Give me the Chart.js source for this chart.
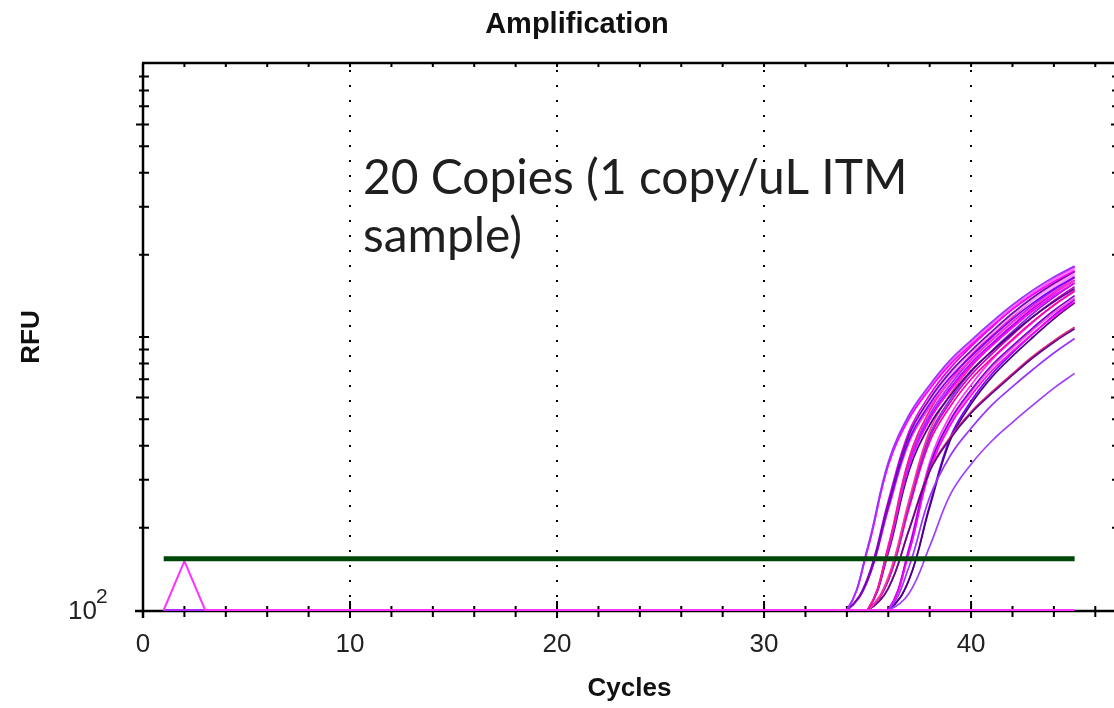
<!DOCTYPE html>
<html>
<head>
<meta charset="utf-8">
<script src="https://cdn.jsdelivr.net/npm/chart.js@4.4.1/dist/chart.umd.min.js"></script>
<style>
  html, body { margin: 0; padding: 0; overflow: hidden; background: #ffffff; }
  canvas { display: block; }
</style>
</head>
<body>
<canvas id="amp" width="1118" height="708"></canvas>
<script>
// ---- texts ----
const titleText = 'Amplification';
const xAxisTitle = 'Cycles';
const yAxisTitle = 'RFU';
const noteLines = ['20 Copies (1 copy/uL ITM', 'sample)'];

// ---- axis ticks ----
const cycleLabelTicks = [0, 10, 20, 30, 40];
const cycleMinorTicks = [2, 4, 6, 8, 12, 14, 16, 18, 22, 24, 26, 28, 32, 34, 36, 38, 42, 44, 46];
const rfuDecadeTicks = [100, 1000, 10000];
const rfuMinorTicks = [200, 300, 400, 500, 700, 800, 900, 2000, 3000, 4000, 5000, 7000, 8000, 9000];
const rfuLongTicks = [600, 6000];

// ---- threshold ----
const thresholdCycles = [1, 45];
const thresholdRFU = 154;

// ---- flat pre-amplification part shared by all wells ----
const baselineCycles = [1, 33];
const baselineRFU = 100;

// ---- amplification curves, RFU at cycles 34..45 ----
const curveCycles = [34, 35, 36, 37, 38, 39, 40, 41, 42, 43, 44, 45];
const curveValues = [
  [100, 169, 348, 518, 667, 824, 972, 1135, 1310, 1486, 1660, 1820],
  [100, 166, 338, 501, 644, 795, 937, 1094, 1262, 1431, 1598, 1751],
  [100, 168, 343, 510, 656, 810, 955, 1114, 1286, 1458, 1629, 1786],
  [100, 130, 245, 437, 593, 745, 890, 1047, 1222, 1398, 1573, 1740],
  [100, 131, 251, 450, 613, 771, 922, 1085, 1267, 1450, 1632, 1806],
  [100, 128, 238, 420, 568, 713, 850, 1000, 1166, 1333, 1499, 1658],
  [100, 128, 233, 410, 554, 693, 827, 971, 1132, 1294, 1455, 1609],
  [100, 129, 242, 430, 583, 732, 874, 1028, 1200, 1372, 1544, 1707],
  [100, 100, 172, 360, 539, 695, 860, 1016, 1187, 1370, 1555, 1738],
  [100, 100, 169, 348, 518, 667, 824, 972, 1135, 1310, 1486, 1660],
  [100, 100, 166, 336, 497, 639, 788, 928, 1083, 1250, 1417, 1582],
  [100, 100, 162, 323, 476, 610, 752, 885, 1032, 1189, 1347, 1504],
  [100, 100, 170, 353, 526, 678, 838, 989, 1156, 1334, 1514, 1691],
  [100, 100, 167, 341, 505, 650, 802, 946, 1104, 1274, 1444, 1613],
  [100, 100, 132, 252, 454, 618, 777, 930, 1094, 1278, 1463, 1647],
  [100, 100, 130, 245, 437, 593, 745, 890, 1047, 1222, 1398, 1573],
  [100, 100, 129, 241, 427, 578, 726, 866, 1019, 1188, 1359, 1529],
  [100, 100, 120, 196, 322, 425, 526, 621, 725, 841, 957, 1072],
  [100, 100, 120, 197, 326, 430, 532, 629, 734, 852, 970, 1087],
  [100, 100, 128, 235, 413, 558, 700, 835, 981, 1143, 1307, 1470],
  [100, 100, 100, 144, 259, 368, 463, 563, 658, 762, 874, 987],
  [100, 100, 100, 162, 323, 476, 610, 752, 885, 1032, 1189, 1347],
  [100, 100, 100, 166, 336, 497, 639, 788, 928, 1083, 1250, 1417],
  [100, 100, 100, 164, 331, 489, 627, 773, 911, 1063, 1225, 1389],
  [100, 100, 100, 169, 348, 518, 667, 824, 972, 1135, 1310, 1486],
  [100, 100, 100, 115, 171, 265, 342, 416, 487, 564, 650, 736],
  [100, 100, 100, 129, 238, 420, 568, 713, 851, 1000, 1166, 1333],
  [100, 100, 100, 129, 242, 430, 583, 732, 874, 1028, 1200, 1372]
];
const curveColors = [
  '#9933ff', '#ff00ff', '#ff66ff', '#6a0dad', '#e600e6', '#8000ff', '#ff33cc', '#ff99ff',
  '#ff1493', '#9b30ff', '#ff00ff', '#4b0082', '#ff80ff', '#b000ff',
  '#ff3399', '#8a2be2', '#cc00cc', '#5b0a91', '#e8287a', '#ff00aa',
  '#9933ff', '#ff00ff', '#7b00d4', '#ff4dd2', '#ff33ff',
  '#a040ff', '#4b0082', '#8000ff'
];

// ---- well with an early spike and no amplification ----
const spikeCycles = [1, 2, 3, 45];
const spikeValues = [100, 151, 100, 100];

// ---- build datasets ----
const lineClip = { left: 3, right: 3, top: 3, bottom: 1 };
const datasets = [];
datasets.push({
  data: thresholdCycles.map(c => ({ x: c, y: thresholdRFU })),
  borderColor: '#00470a', borderWidth: 5, pointRadius: 0, tension: 0, clip: lineClip
});
datasets.push({
  data: spikeCycles.map((c, i) => ({ x: c, y: spikeValues[i] })),
  borderColor: '#ff33ff', borderWidth: 2, pointRadius: 0, tension: 0, clip: lineClip
});
curveValues.forEach((vals, i) => {
  const pts = baselineCycles.map(c => ({ x: c, y: baselineRFU }))
    .concat(curveCycles.map((c, j) => ({ x: c, y: vals[j] })));
  datasets.push({
    data: pts,
    borderColor: curveColors[i],
    borderWidth: 1.7,
    pointRadius: 0,
    tension: 0.4,
    clip: lineClip
  });
});

// ---- frame, ticks and free text ----
const framePlugin = {
  id: 'framePlugin',
  beforeDatasetsDraw(chart) {
    const { ctx, chartArea: a, scales: { x, y } } = chart;
    ctx.save();
    ctx.strokeStyle = '#000';
    ctx.lineCap = 'butt';
    // frame lines
    ctx.lineWidth = 2.5;
    ctx.beginPath();
    ctx.moveTo(a.left, a.top - 1); ctx.lineTo(a.left, a.bottom + 8);
    ctx.moveTo(a.left - 8, a.bottom + 1); ctx.lineTo(a.right, a.bottom + 1);
    ctx.moveTo(a.left - 1, a.top - 1); ctx.lineTo(a.right, a.top - 1);
    ctx.moveTo(a.right, a.top - 1); ctx.lineTo(a.right, a.bottom + 1);
    ctx.stroke();
    // cycle ticks
    ctx.lineWidth = 2;
    ctx.beginPath();
    cycleMinorTicks.forEach(c => {
      const px = x.getPixelForValue(c);
      ctx.moveTo(px, a.bottom - 4); ctx.lineTo(px, a.bottom + 7);
      ctx.moveTo(px, a.top - 1); ctx.lineTo(px, a.top + 3);
    });
    cycleLabelTicks.forEach(c => {
      const px = x.getPixelForValue(c);
      ctx.moveTo(px, a.bottom - 9); ctx.lineTo(px, a.bottom + 8);
      ctx.moveTo(px, a.top - 1); ctx.lineTo(px, a.top + 3);
    });
    // RFU ticks, left and right
    rfuMinorTicks.concat(rfuDecadeTicks).forEach(v => {
      const py = y.getPixelForValue(v);
      if (v === 100 || v === 10000) return;
      ctx.moveTo(a.left - 4, py); ctx.lineTo(a.left + 6, py);
      ctx.moveTo(a.right - 4, py); ctx.lineTo(a.right, py);
    });
    rfuLongTicks.forEach(v => {
      const py = y.getPixelForValue(v);
      ctx.moveTo(a.left - 7, py); ctx.lineTo(a.left + 6, py);
      ctx.moveTo(a.right - 5, py); ctx.lineTo(a.right, py);
    });
    ctx.stroke();
    ctx.restore();
  },
  afterDraw(chart) {
    const { ctx, scales: { y } } = chart;
    ctx.save();
    // chart title
    ctx.fillStyle = '#111';
    ctx.font = 'bold 29px "Liberation Sans", Arial, sans-serif';
    ctx.textAlign = 'center';
    ctx.textBaseline = 'alphabetic';
    ctx.fillText(titleText, 577, 33);
    // decade label 10^2
    const py = y.getPixelForValue(rfuDecadeTicks[0]);
    ctx.fillStyle = '#222';
    ctx.textAlign = 'right';
    ctx.font = '26px "Liberation Sans", Arial, sans-serif';
    ctx.fillText('10', 97, py + 9);
    ctx.textAlign = 'left';
    ctx.font = '21px "Liberation Sans", Arial, sans-serif';
    ctx.fillText('2', 96, py - 7);
    // note text
    ctx.fillStyle = '#1f1f1f';
    ctx.font = '100px Lato, "Open Sans", sans-serif';
    const w = ctx.measureText(noteLines[0]).width;
    const size = 100 * 545 / w;
    ctx.font = size.toFixed(1) + 'px Lato, "Open Sans", sans-serif';
    ctx.fillText(noteLines[0], 363, 194);
    ctx.fillText(noteLines[1], 363, 252);
    ctx.restore();
  }
};

new Chart(document.getElementById('amp'), {
  type: 'line',
  data: { datasets },
  options: {
    responsive: false,
    animation: false,
    events: [],
    layout: { autoPadding: false, padding: { top: 64, right: 2, bottom: 0, left: 0 } },
    plugins: { legend: { display: false }, tooltip: { enabled: false }, title: { display: false } },
    scales: {
      x: {
        type: 'linear',
        min: 0,
        max: 47,
        afterFit: s => { s.height = 98; s.paddingLeft = 0; s.paddingRight = 0; },
        ticks: {
          stepSize: 2,
          autoSkip: false,
          maxRotation: 0,
          padding: 19,
          color: '#222',
          font: { family: '"Liberation Sans", Arial, sans-serif', size: 26 },
          callback: v => (cycleLabelTicks.includes(v) ? String(v) : '')
        },
        grid: {
          drawTicks: false,
          lineWidth: 2,
          color: c => (c.tick && c.tick.value > 0 && c.tick.value % 10 === 0) ? '#000' : 'rgba(0,0,0,0)'
        },
        border: { display: false, dash: [2, 13], dashOffset: 9 },
        title: {
          display: true,
          text: xAxisTitle,
          color: '#111',
          font: { family: '"Liberation Sans", Arial, sans-serif', size: 26, weight: 'bold' },
          padding: { top: 0, bottom: 3.4 }
        }
      },
      y: {
        type: 'logarithmic',
        min: 100,
        max: 10000,
        afterFit: s => { s.width = 143; s.paddingTop = 0; s.paddingBottom = 0; },
        ticks: { display: false },
        grid: { display: false, drawTicks: false },
        border: { display: false },
        title: {
          display: true,
          text: yAxisTitle,
          color: '#111',
          font: { family: '"Liberation Sans", Arial, sans-serif', size: 26, weight: 'bold' },
          padding: { top: 16.4, bottom: 0 }
        }
      }
    }
  },
  plugins: [framePlugin]
});
</script>
</body>
</html>
